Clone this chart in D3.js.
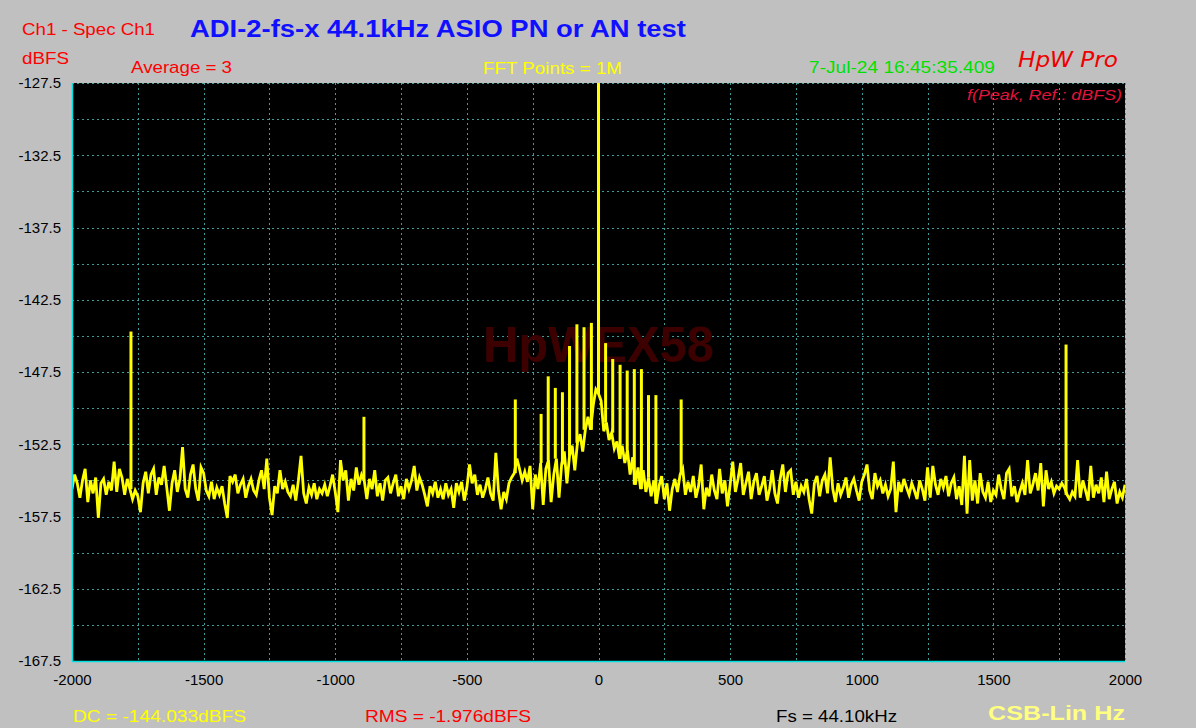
<!DOCTYPE html>
<html><head><meta charset="utf-8">
<script src="https://cdn.jsdelivr.net/npm/d3@7"></script>
<style>
body{margin:0;background:#c0c0c0;}
svg{display:block;font-family:"Liberation Sans",Arial,sans-serif;}
</style>
</head><body>
<svg id="chart" width="1196" height="728"></svg>
<script>
// ---------- DATA ----------
const noiseStartHz = -2000;
const noiseStepHz = 10;
const noiseDb = [
-155.6,-154.6,-155.2,-156.2,-155.0,-154.2,-156.5,-155.0,-155.9,-154.8,
-157.6,-155.2,-154.9,-156.0,-155.1,-155.7,-153.7,-155.8,-154.2,-154.8,
-156.0,-154.9,-155.6,-156.3,-155.7,-156.1,-157.2,-155.2,-154.4,-155.9,
-154.6,-154.2,-156.0,-154.8,-155.3,-154.0,-155.5,-157.1,-155.2,-154.3,
-155.8,-154.9,-152.7,-155.6,-156.2,-154.6,-153.9,-155.6,-156.4,-154.1,
-154.5,-155.7,-156.1,-155.1,-156.3,-155.5,-156.0,-155.4,-156.6,-157.6,
-154.7,-155.1,-154.6,-155.9,-155.3,-154.9,-156.2,-155.4,-154.9,-155.7,
-156.0,-155.0,-154.3,-155.6,-153.5,-156.2,-157.4,-155.4,-155.9,-154.3,
-155.6,-155.1,-155.8,-156.1,-155.3,-156.4,-155.0,-153.3,-155.9,-156.6,
-155.5,-156.0,-155.2,-156.3,-155.6,-155.9,-155.3,-156.1,-155.4,-154.6,
-155.8,-157.2,-153.6,-155.0,-154.3,-156.4,-154.9,-155.7,-154.1,-155.3,
-154.6,-155.0,-156.3,-154.9,-155.6,-154.3,-156.1,-155.2,-156.4,-155.0,
-154.8,-155.9,-155.2,-154.6,-156.1,-155.4,-156.3,-154.9,-155.6,-155.0,
-154.0,-155.7,-154.8,-155.3,-156.0,-156.8,-155.4,-155.9,-155.1,-156.2,
-155.6,-156.3,-155.2,-156.0,-155.6,-156.9,-155.2,-155.8,-155.1,-156.4,
-155.5,-153.9,-155.2,-154.6,-156.0,-155.3,-156.2,-155.6,-154.8,-155.9,
-156.4,-153.1,-155.7,-157.0,-155.8,-156.3,-155.2,-154.8,-154.5,-153.5,
-154.2,-155.0,-154.4,-155.1,-154.0,-157.0,-154.6,-155.6,-153.8,-156.7,
-154.2,-153.6,-156.5,-154.6,-153.5,-156.2,-153.9,-153.0,-155.2,-153.3,
-152.6,-154.3,-152.4,-151.8,-153.0,-151.5,-150.6,-151.5,-149.8,-148.7,
-149.0,-149.5,-151.6,-151.0,-152.2,-151.7,-152.8,-152.3,-153.5,-152.6,
-153.8,-152.9,-154.6,-153.4,-155.3,-154.1,-155.6,-154.3,-155.8,-154.8,
-156.1,-155.0,-156.6,-155.4,-154.7,-156.3,-155.2,-157.1,-155.6,-154.9,
-155.8,-154.6,-154.2,-156.0,-155.1,-155.8,-154.7,-156.2,-155.4,-153.9,
-157.0,-155.5,-156.1,-154.6,-155.7,-156.3,-154.2,-155.9,-155.0,-156.8,
-155.3,-153.7,-155.8,-154.9,-153.8,-156.0,-155.2,-154.4,-156.3,-155.1,
-154.5,-156.0,-155.4,-154.7,-156.4,-155.6,-154.3,-155.9,-156.6,-154.9,
-153.9,-155.8,-154.5,-154.3,-156.0,-155.1,-156.2,-155.4,-155.8,-154.9,
-156.3,-157.3,-155.2,-154.7,-156.1,-155.0,-154.6,-155.9,-153.4,-155.6,
-156.5,-155.2,-156.0,-155.5,-154.8,-156.2,-155.3,-154.9,-155.7,-156.4,
-155.1,-154.6,-153.9,-155.7,-156.3,-154.5,-155.4,-155.0,-155.9,-155.3,
-156.1,-155.6,-153.7,-157.2,-155.1,-155.8,-154.9,-155.5,-156.0,-155.2,
-155.7,-156.3,-155.0,-155.6,-156.4,-154.1,-156.2,-154.0,-155.3,-156.0,
-154.9,-155.5,-154.7,-156.1,-155.2,-154.8,-156.3,-155.4,-156.7,-153.3,
-157.3,-153.6,-156.4,-155.0,-156.6,-154.5,-155.8,-156.2,-155.1,-156.5,
-155.7,-156.0,-154.6,-155.6,-156.3,-154.5,-154.2,-156.1,-155.4,-156.5,
-155.8,-155.2,-156.0,-153.6,-155.9,-155.3,-154.5,-155.7,-153.8,-156.8,
-154.3,-155.6,-155.1,-155.9,-155.4,-155.6,-155.2,-155.5,-156.0,-156.3,
-155.8,-156.1,-153.6,-156.2,-155.0,-155.7,-156.4,-154.0,-156.2,-155.3,
-155.9,-154.8,-156.5,-154.4,-156.3,-155.6,-155.1,-156.6,-155.8,-156.2,
-155.3
];
const spikeHz = [-1776,-891,-316,-218,-191,-164,-137,-110,-82,-55,-27,0,27,54,82,109,136,163,190,218,314,1776];
const spikeDb = [-144.7,-150.6,-149.4,-150.4,-147.8,-148.6,-148.9,-145.7,-144.2,-144.4,-144.1,-127.5,-145.5,-146.6,-147.0,-147.4,-147.3,-147.3,-149.1,-149.1,-149.4,-145.6];
const yTickLabels = [-127.5,-132.5,-137.5,-142.5,-147.5,-152.5,-157.5,-162.5,-167.5];
const xTickLabels = [-2000,-1500,-1000,-500,0,500,1000,1500,2000];

// ---------- LAYOUT ----------
const L = 72, R = 1125, T = 83, B = 661;
const svg = d3.select("#chart");
const x = d3.scaleLinear().domain([-2000, 2000]).range([L, R]);
const y = d3.scaleLinear().domain([-127.5, -167.5]).range([T, B]);

svg.append("rect").attr("width",1196).attr("height",728).attr("fill","#c0c0c0");
svg.append("rect").attr("x",L).attr("y",T).attr("width",R-L).attr("height",B-T).attr("fill","#000");

// grid
const gridCol = "#3f9a9a";
const hGrid = d3.range(0, 17).map(i => -127.5 - i*2.5);
const vGrid = d3.range(0, 17).map(i => -2000 + i*250);
svg.append("g").selectAll("line").data(hGrid).join("line")
  .attr("x1",L).attr("x2",R).attr("y1",d=>Math.round(y(d))+0.5).attr("y2",d=>Math.round(y(d))+0.5)
  .attr("stroke",gridCol).attr("stroke-width",1).attr("stroke-dasharray","2,3");
svg.append("g").selectAll("line").data(vGrid).join("line")
  .attr("y1",T).attr("y2",B).attr("x1",d=>Math.round(x(d))+0.5).attr("x2",d=>Math.round(x(d))+0.5)
  .attr("stroke",gridCol).attr("stroke-width",1).attr("stroke-dasharray","2,3");

// watermark
svg.append("text").attr("x",x(0)).attr("y",362).attr("text-anchor","middle")
  .attr("font-size",50).attr("font-weight","bold").attr("fill","#3c0000")
  .attr("textLength",231).attr("lengthAdjust","spacingAndGlyphs").text("HpWEX58");

// clip
svg.append("clipPath").attr("id","clip").append("rect").attr("x",L).attr("y",T).attr("width",R-L).attr("height",B-T);
const plot = svg.append("g").attr("clip-path","url(#clip)");

const noisePts = noiseDb.map((v,i)=>({f: noiseStartHz + i*noiseStepHz, v}));
const line = d3.line().x(d=>x(d.f)).y(d=>y(d.v));
plot.append("path").datum(noisePts).attr("d",line)
  .attr("fill","none").attr("stroke","#ffff00").attr("stroke-width",2.8).attr("stroke-linejoin","miter");

const spikes = spikeHz.map((f,i)=>({f, v: spikeDb[i], base: noiseDb[Math.round((f-noiseStartHz)/noiseStepHz)]}));
plot.append("g").selectAll("line").data(spikes).join("line")
  .attr("x1",d=>x(d.f)).attr("x2",d=>x(d.f)).attr("y1",d=>y(d.base)).attr("y2",d=>y(d.v))
  .attr("stroke","#ffff00").attr("stroke-width",3);

// axis lines (cyan)
svg.append("line").attr("x1",L+0.5).attr("x2",L+0.5).attr("y1",T).attr("y2",B+1).attr("stroke","#00e0e0").attr("stroke-width",1.5);
svg.append("line").attr("x1",L).attr("x2",R).attr("y1",B+0.5).attr("y2",B+0.5).attr("stroke","#00e0e0").attr("stroke-width",1.5);

// axes
const yAxis = d3.axisLeft(y).tickValues(yTickLabels).tickSize(0).tickPadding(11).tickFormat(d=>d.toFixed(1));
const gy = svg.append("g").attr("transform",`translate(${L},0)`).call(yAxis);
gy.select(".domain").remove();
gy.selectAll("text").attr("font-size",15).attr("font-family","Liberation Sans, Arial, sans-serif").attr("fill","#000").attr("dy","0.32em");

const xAxis = d3.axisBottom(x).tickValues(xTickLabels).tickSize(0).tickPadding(13).tickFormat(d=>String(d));
const gx = svg.append("g").attr("transform",`translate(0,${B})`).call(xAxis);
gx.select(".domain").remove();
gx.selectAll("text").attr("font-size",15).attr("font-family","Liberation Sans, Arial, sans-serif").attr("fill","#000");

// texts
function txt(s, xx, yy, o) {
  const t = svg.append("text").attr("x",xx).attr("y",yy).text(s)
    .attr("font-size",o.size||16).attr("fill",o.fill||"#000");
  if (o.weight) t.attr("font-weight",o.weight);
  if (o.style) t.attr("font-style",o.style);
  if (o.anchor) t.attr("text-anchor",o.anchor);
  if (o.len) t.attr("textLength",o.len).attr("lengthAdjust","spacingAndGlyphs");
  if (o.family) t.attr("font-family",o.family);
  return t;
}
txt("Ch1 - Spec Ch1", 22, 35, {size:17, fill:"#ff0000", len:133});
txt("dBFS", 22, 64, {size:17, fill:"#ff0000", len:47});
txt("ADI-2-fs-x 44.1kHz ASIO PN or AN test", 190, 37, {size:23, fill:"#1010ff", weight:"bold", len:496});
txt("Average = 3", 131, 73, {size:17, fill:"#ff0000", len:101});
txt("FFT Points = 1M", 483, 74, {size:17, fill:"#ffff00", len:139});
txt("7-Jul-24 16:45:35.409", 809, 73, {size:17, fill:"#00e000", len:186});
txt("HpW Pro", 1018, 67, {size:21, fill:"#ee0000", style:"italic", len:100, family:"DejaVu Sans, sans-serif"});
txt("f(Peak, Ref.: dBFS)", 967, 100, {size:15, fill:"#e0143c", style:"italic", len:155});
txt("DC = -144.033dBFS", 73, 722, {size:17, fill:"#ffff00", len:173});
txt("RMS = -1.976dBFS", 365, 722, {size:17, fill:"#ff0000", len:166});
txt("Fs = 44.10kHz", 776, 722, {size:17, fill:"#000", len:121});
txt("CSB-Lin Hz", 988, 720, {size:21, fill:"#ffff80", weight:"bold", len:137});
</script>
</body></html>
